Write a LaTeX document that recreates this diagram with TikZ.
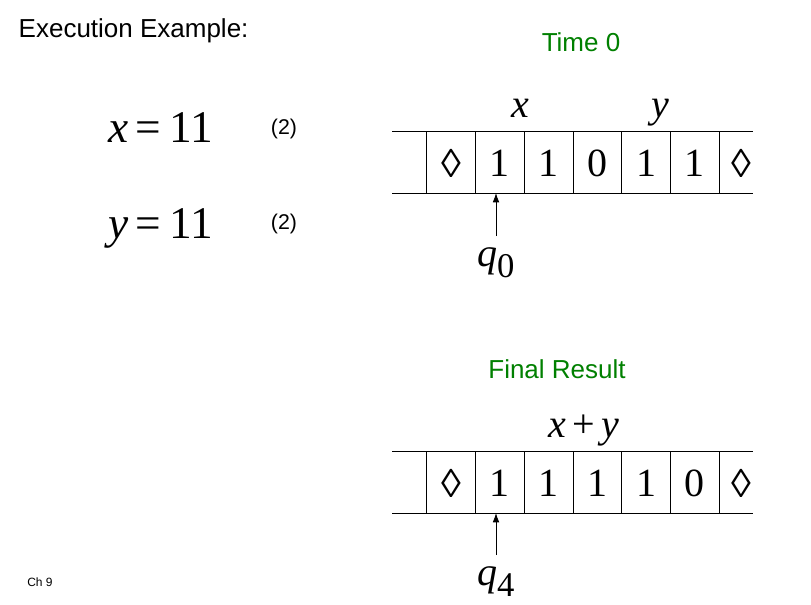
\documentclass[tikz,border=0pt]{standalone}
\usepackage{fontspec}
\usetikzlibrary{arrows.meta}
\setmainfont{Liberation Serif}
\newfontfamily\hd{Liberation Sans}
\definecolor{grn}{RGB}{0,128,0}
\begin{document}
\begin{tikzpicture}[x=0.75pt,y=-0.75pt,
  hdr/.style={font=\hd\fontsize{19.5}{22}\selectfont},
  ghdr/.style={font=\hd\fontsize{19.5}{22}\selectfont,text=grn},
  big/.style={font=\fontsize{30}{32}\selectfont,inner sep=0pt},
  huge/.style={font=\fontsize{34}{36}\selectfont,inner sep=0pt},
  small/.style={font=\hd\fontsize{16}{18}\selectfont},
  tape/.style={line width=0.6pt},
  ptr/.style={-{Latex[length=7pt,width=5pt]},line width=0.6pt}]
\useasboundingbox[fill=white] (0,0) rectangle (811,604);
\node[hdr,anchor=west] (title) at (14,31) {Execution Example:};
\node[ghdr] (t0) at (581,42) {Time 0};
\node[ghdr] (fr) at (557,369) {Final Result};
\node[huge,anchor=base west] (xe) at (108,142) {\textit{x}\,=\,11};
\node[huge,anchor=base west] (ye) at (108,238) {\textit{y}\,=\,11};
\node[small] (b1) at (284,129) {(2)};
\node[small] (b2) at (284,224) {(2)};
\node[hdr,font=\hd\fontsize{9}{10}\selectfont] (ch) at (40,582) {Ch 9};
% top tape
\draw[tape] (392,131) -- (753,131) (392,193) -- (753,193);
\foreach \xx in {426,475,524,573,621,670,719} \draw[tape] (\xx,131) -- (\xx,193);
\foreach \c/\t in {451/◊,499/1,548/1,597/0,646/1,694/1,741/◊}
  \node[big] at (\c,163) {\t};
\node[big,anchor=base] (xl) at (520,117) {\textit{x}};
\node[big,anchor=base] (yl) at (660,117) {\textit{y}};
\coordinate (h0) at (496,193);
\node[big,anchor=base] (q0) at (496,266) {\textit{q}\textsubscript{\fontsize{26}{26}\selectfont 0}};
\draw[ptr] (496,236) -- (h0);
% bottom tape
\draw[tape] (392,451) -- (753,451) (392,513) -- (753,513);
\foreach \xx in {426,475,524,573,621,670,719} \draw[tape] (\xx,451) -- (\xx,513);
\foreach \c/\t in {451/◊,499/1,548/1,597/1,646/1,694/0,741/◊}
  \node[big] at (\c,483) {\t};
\node[big,anchor=base] (xy) at (584,437) {\textit{x}\,+\,\textit{y}};
\coordinate (h4) at (496,513);
\node[big,anchor=base] (q4) at (496,585) {\textit{q}\textsubscript{\fontsize{26}{26}\selectfont 4}};
\draw[ptr] (496,555) -- (h4);
\end{tikzpicture}
\end{document}
